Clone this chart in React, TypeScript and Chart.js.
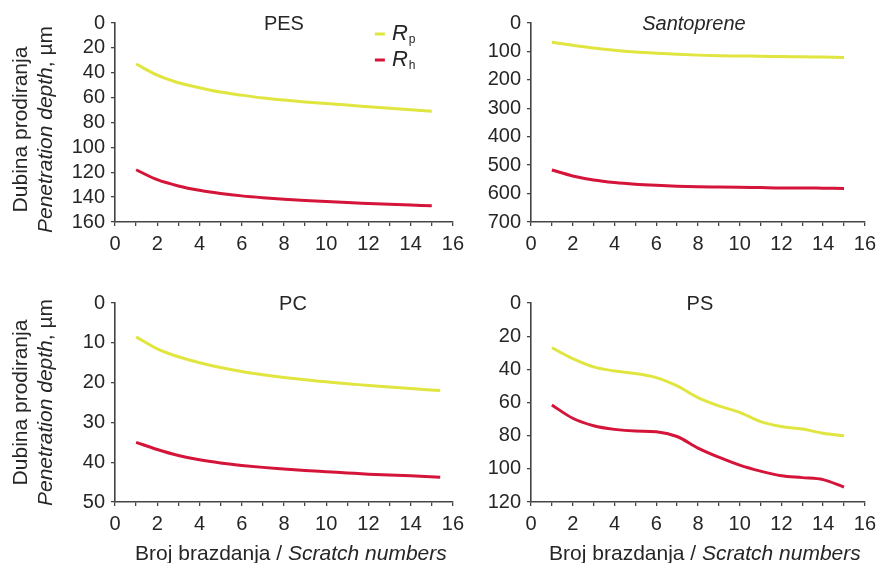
import React, { useEffect, useRef } from 'react';
import { Chart, registerables } from 'chart.js';

Chart.register(...registerables);

// ---------- data ----------
const scratch = [1, 2, 3, 4, 5, 6, 7, 8, 9, 10, 11, 12, 13, 14, 15];
const pcScratch = [1, 2, 3, 4, 5, 6, 7, 8, 9, 10, 11, 12, 13, 14, 15.4];
const xTickValues = [0, 2, 4, 6, 8, 10, 12, 14, 16];

const pesRp = [33, 42, 48, 52, 55.5, 58, 60.3, 62, 63.5, 64.8, 66, 67.3, 68.5, 69.8, 71];
const pesRh = [118, 126, 131, 134.5, 137, 139, 140.5, 141.7, 142.7, 143.6, 144.4, 145.1, 145.8, 146.4, 147];
const pesYTicks = [0, 20, 40, 60, 80, 100, 120, 140, 160];

const santRp = [68, 78, 88, 96, 102, 106, 110, 113, 115, 116, 117, 118, 119, 120, 121];
const santRh = [517, 538, 552, 561, 567, 571, 574, 576, 577, 578, 579, 580, 580, 581, 582];
const santYTicks = [0, 100, 200, 300, 400, 500, 600, 700];

const pcRp = [8.5, 11.5, 13.5, 15, 16.2, 17.2, 18, 18.7, 19.3, 19.8, 20.3, 20.7, 21.1, 21.5, 22];
const pcRh = [35, 36.8, 38.3, 39.4, 40.2, 40.8, 41.3, 41.7, 42.1, 42.4, 42.7, 43, 43.2, 43.4, 43.8];
const pcYTicks = [0, 10, 20, 30, 40, 50];

const psRp = [27, 33.5, 38.5, 41, 42.5, 45, 50, 57, 62, 66, 71.5, 74.5, 76, 78.5, 80];
const psRh = [61.5, 69.5, 74, 76.2, 77.2, 77.6, 80.5, 87.5, 93, 97.8, 101.4, 104.2, 105.3, 106.5, 111];
const psYTicks = [0, 20, 40, 60, 80, 100, 120];

const seriesNames = ['R', 'R'];
const seriesSubs = ['p', 'h'];
const yTitleLine1 = 'Dubina prodiranja';
const yTitleLine2Italic = 'Penetration depth';
const yTitleLine2Rest = ', µm';
const xTitleNormal = 'Broj brazdanja / ';
const xTitleItalic = 'Scratch numbers';

// ---------- styles ----------
const FONT = '"Liberation Sans", Arial, Helvetica, sans-serif';
const YELLOW = 'rgb(224, 229, 64)';
const RED = 'rgb(212, 20, 56)';
const AXIS = '#444444';
const TEXT = '#262626';

type PanelProps = {
  left: number;
  top: number;
  width: number;
  height: number;
  plot: [number, number, number, number]; // l, t, r, b in canvas coordinates
  title: string;
  titleItalic?: boolean;
  titleDx?: number;
  xs: number[];
  rp: number[];
  rh: number[];
  yTicks: number[];
  yTitle?: boolean;
  yTitleDy?: number;
  xTitle?: boolean;
  legend?: boolean;
};

function Panel(p: PanelProps) {
  const ref = useRef<HTMLCanvasElement | null>(null);

  useEffect(() => {
    const canvas = ref.current;
    if (!canvas) return;
    const [pl, pt, pr, pb] = p.plot;

    const decor = {
      id: 'decor',
      afterDraw(chart: any) {
        const ctx = chart.ctx as CanvasRenderingContext2D;
        const a = chart.chartArea;
        ctx.save();
        ctx.fillStyle = TEXT;
        // panel title
        ctx.font = (p.titleItalic ? 'italic ' : '') + '20px ' + FONT;
        ctx.textAlign = 'center';
        ctx.textBaseline = 'middle';
        ctx.fillText(p.title, (a.left + a.right) / 2 + (p.titleDx || 0), a.top + 1);

        // y axis title
        if (p.yTitle) {
          const cy = (a.top + a.bottom) / 2 + (p.yTitleDy || 0);
          ctx.save();
          ctx.translate(a.left - 94, cy);
          ctx.rotate(-Math.PI / 2);
          ctx.font = '21px ' + FONT;
          ctx.textAlign = 'center';
          ctx.textBaseline = 'middle';
          ctx.fillText(yTitleLine1, 0, 0);
          ctx.restore();

          ctx.save();
          ctx.translate(a.left - 69, cy);
          ctx.rotate(-Math.PI / 2);
          ctx.textBaseline = 'middle';
          ctx.textAlign = 'left';
          ctx.font = 'italic 21px ' + FONT;
          const w1 = ctx.measureText(yTitleLine2Italic).width;
          ctx.font = '21px ' + FONT;
          const w2 = ctx.measureText(yTitleLine2Rest).width;
          const x0 = -(w1 + w2) / 2;
          ctx.font = 'italic 21px ' + FONT;
          ctx.fillText(yTitleLine2Italic, x0, 0);
          ctx.font = '21px ' + FONT;
          ctx.fillText(yTitleLine2Rest, x0 + w1, 0);
          ctx.restore();
        }

        // x axis title
        if (p.xTitle) {
          ctx.textBaseline = 'middle';
          ctx.textAlign = 'left';
          ctx.font = '21px ' + FONT;
          const w1 = ctx.measureText(xTitleNormal).width;
          ctx.font = 'italic 21px ' + FONT;
          const w2 = ctx.measureText(xTitleItalic).width;
          const x0 = (a.left + a.right) / 2 + 7 - (w1 + w2) / 2;
          const y = a.bottom + 52;
          ctx.font = '21px ' + FONT;
          ctx.fillText(xTitleNormal, x0, y);
          ctx.font = 'italic 21px ' + FONT;
          ctx.fillText(xTitleItalic, x0 + w1, y);
        }

        // legend
        if (p.legend) {
          const colors = [YELLOW, RED];
          for (let i = 0; i < 2; i++) {
            const y = a.top + 11 + i * 26;
            const x = a.right - 78;
            ctx.strokeStyle = colors[i];
            ctx.lineWidth = 3;
            ctx.beginPath();
            ctx.moveTo(x, y);
            ctx.lineTo(x + 10, y);
            ctx.stroke();
            ctx.fillStyle = TEXT;
            ctx.textAlign = 'left';
            ctx.textBaseline = 'middle';
            ctx.font = 'italic 22px ' + FONT;
            ctx.fillText(seriesNames[i], x + 17, y);
            const wr = ctx.measureText(seriesNames[i]).width;
            ctx.font = '12px ' + FONT;
            ctx.fillText(seriesSubs[i], x + 17 + wr + 1, y + 6);
          }
        }
        ctx.restore();
      },
    };

    const tickFont = { family: FONT, size: 20 };

    const chart = new Chart(canvas, {
      type: 'line',
      data: {
        datasets: [
          {
            label: 'Rp',
            data: p.xs.map((x, i) => ({ x, y: p.rp[i] })),
            borderColor: YELLOW,
            borderWidth: 3,
            pointRadius: 0,
            cubicInterpolationMode: 'monotone',
            fill: false,
          },
          {
            label: 'Rh',
            data: p.xs.map((x, i) => ({ x, y: p.rh[i] })),
            borderColor: RED,
            borderWidth: 3,
            pointRadius: 0,
            cubicInterpolationMode: 'monotone',
            fill: false,
          },
        ],
      },
      options: {
        responsive: false,
        animation: false,
        events: [],
        layout: { padding: { top: pt, right: p.width - pr, left: 0, bottom: 0 } },
        plugins: {
          legend: { display: false },
          tooltip: { enabled: false },
          title: { display: false },
        },
        scales: {
          x: {
            type: 'linear',
            min: xTickValues[0],
            max: xTickValues[xTickValues.length - 1],
            afterBuildTicks: (s: any) => {
              const t = [];
              for (let v = s.min; v <= s.max; v++) t.push({ value: v });
              s.ticks = t;
            },
            afterFit: (s: any) => {
              s.height = p.height - pb;
            },
            ticks: {
              autoSkip: false,
              maxRotation: 0,
              padding: 6,
              color: TEXT,
              font: tickFont,
              callback: (v: any) => (xTickValues.includes(v) ? String(v) : ''),
            },
            grid: {
              drawOnChartArea: false,
              drawTicks: true,
              tickLength: 4,
              color: AXIS,
              lineWidth: 1.3,
            },
            border: { display: true, color: AXIS, width: 1.6 },
          },
          y: {
            type: 'linear',
            reverse: true,
            min: p.yTicks[0],
            max: p.yTicks[p.yTicks.length - 1],
            afterBuildTicks: (s: any) => {
              s.ticks = p.yTicks.map((v) => ({ value: v }));
            },
            afterFit: (s: any) => {
              s.width = pl;
            },
            ticks: {
              autoSkip: false,
              padding: 6,
              color: TEXT,
              font: tickFont,
            },
            grid: {
              drawOnChartArea: false,
              drawTicks: true,
              tickLength: 4,
              color: AXIS,
              lineWidth: 1.3,
            },
            border: { display: true, color: AXIS, width: 1.6 },
          },
        },
      },
      plugins: [decor],
    } as any);

    return () => chart.destroy();
  }, []);

  return (
    <canvas
      ref={ref}
      width={p.width}
      height={p.height}
      style={{ position: 'absolute', left: p.left, top: p.top, width: p.width, height: p.height }}
    />
  );
}

export default function App() {
  return (
    <div
      style={{
        position: 'absolute',
        left: 0,
        top: 0,
        width: 882,
        height: 563,
        background: '#ffffff',
        overflow: 'hidden',
      }}
    >
      <Panel
        left={0}
        top={0}
        width={470}
        height={275}
        plot={[115, 23, 456, 222]}
        title="PES"
        xs={scratch}
        rp={pesRp}
        rh={pesRh}
        yTicks={pesYTicks}
        yTitle
        yTitleDy={7}
        legend
      />
      <Panel
        left={470}
        top={0}
        width={412}
        height={275}
        plot={[61, 23, 399, 222]}
        title="Santoprene"
        titleItalic
        titleDx={-4}
        xs={scratch}
        rp={santRp}
        rh={santRh}
        yTicks={santYTicks}
      />
      <Panel
        left={0}
        top={275}
        width={470}
        height={288}
        plot={[115, 28, 456, 227]}
        title="PC"
        titleDx={9}
        xs={pcScratch}
        rp={pcRp}
        rh={pcRh}
        yTicks={pcYTicks}
        yTitle
        xTitle
      />
      <Panel
        left={470}
        top={275}
        width={412}
        height={288}
        plot={[61, 28, 399, 227]}
        title="PS"
        titleDx={2}
        xs={scratch}
        rp={psRp}
        rh={psRh}
        yTicks={psYTicks}
        xTitle
      />
    </div>
  );
}
